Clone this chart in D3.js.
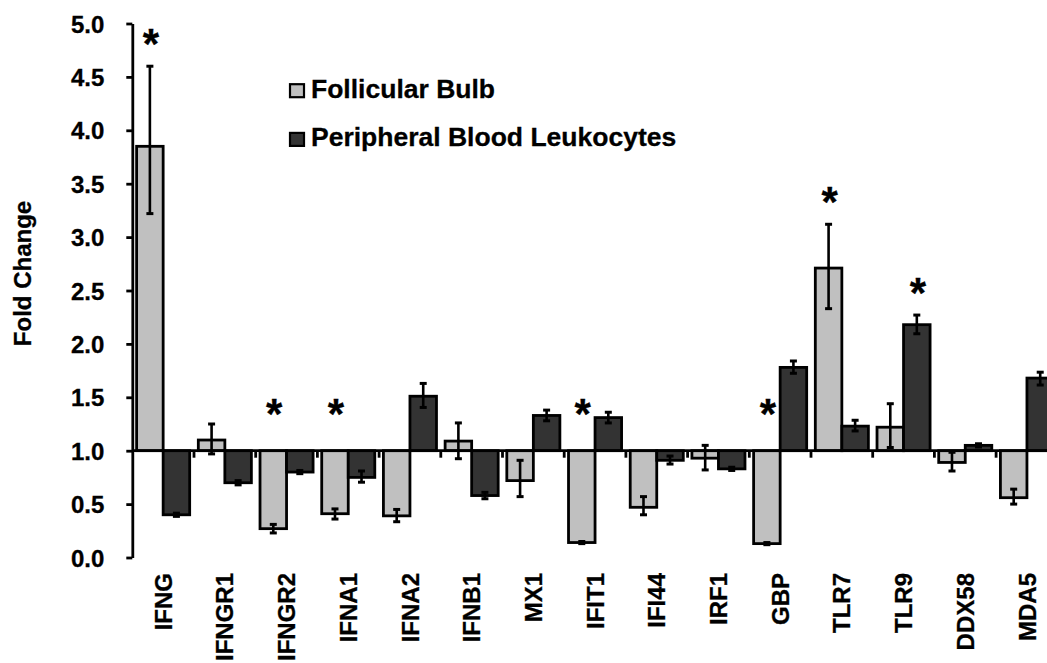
<!DOCTYPE html>
<html>
<head>
<meta charset="utf-8">
<script src="https://cdn.jsdelivr.net/npm/d3@7"></script>
<style>
  html, body { margin: 0; padding: 0; background: #fff; }
  svg { display: block; font-family: "Liberation Sans", Arial, sans-serif; font-weight: bold; }
  svg text { stroke: #000; stroke-width: 0.3px; }
</style>
</head>
<body>
<div id="chart"></div>
<script>
// genes on the x axis
const categories = ["IFNG", "IFNGR1", "IFNGR2", "IFNA1", "IFNA2", "IFNB1", "MX1", "IFIT1",
  "IFI44", "IRF1", "GBP", "TLR7", "TLR9", "DDX58", "MDA5"];

const seriesNames = ["Follicular Bulb", "Peripheral Blood Leukocytes"];

// fold change, follicular bulb
const follicular = [3.85, 1.10, 0.27, 0.41, 0.39, 1.09, 0.72, 0.14, 0.47, 0.93, 0.13, 2.71, 1.22, 0.89, 0.56];
const follicularErrUp = [0.75, 0.15, 0.04, 0.045, 0.06, 0.17, 0.19, 0.01, 0.10, 0.12, 0.01, 0.41, 0.22, 0.095, 0.08];
const follicularErrDown = [0.63, 0.13, 0.04, 0.05, 0.055, 0.165, 0.15, 0.01, 0.07, 0.11, 0.01, 0.38, 0.19, 0.08, 0.06];

// fold change, peripheral blood leukocytes
const leukocytes = [0.40, 0.70, 0.80, 0.75, 1.51, 0.58, 1.33, 1.31, 0.91, 0.83, 1.78, 1.23, 2.18, 1.05, 1.68];
const leukocytesErrUp = [0.015, 0.02, 0.015, 0.06, 0.12, 0.03, 0.05, 0.05, 0.04, 0.015, 0.06, 0.055, 0.09, 0.015, 0.055];
const leukocytesErrDown = [0.015, 0.02, 0.015, 0.045, 0.105, 0.03, 0.05, 0.05, 0.035, 0.015, 0.055, 0.045, 0.085, 0.015, 0.065];

// significance markers (*)
const follicularSig = [true, false, true, true, false, false, false, true, false, false, true, true, false, false, false];
const leukocytesSig = [false, false, false, false, false, false, false, false, false, false, false, false, true, false, false];

const yTicks = [0, 0.5, 1, 1.5, 2, 2.5, 3, 3.5, 4, 4.5, 5];
const baseline = 1.0;

const colors = ["#c0c0c0", "#333333"];

const width = 1047, height = 663;
const axisX = 132.3;
const step = 61.7;

const svg = d3.select("#chart").append("svg")
  .attr("width", width)
  .attr("height", height);

const y = d3.scaleLinear().domain([0, 5]).range([557.5, 23.5]);

const x0 = d3.scaleBand()
  .domain(categories)
  .range([axisX, axisX + step * categories.length])
  .paddingInner(0.14)
  .paddingOuter(0.07);

const x1 = d3.scaleBand().domain([0, 1]).range([0, x0.bandwidth()]);

// one row per bar
const rows = [];
categories.forEach((c, i) => {
  rows.push({ cat: c, s: 0, v: follicular[i], up: follicularErrUp[i], dn: follicularErrDown[i], sig: follicularSig[i] });
  rows.push({ cat: c, s: 1, v: leukocytes[i], up: leukocytesErrUp[i], dn: leukocytesErrDown[i], sig: leukocytesSig[i] });
});
const bx = (d) => x0(d.cat) + x1(d.s);
const bw = x1.bandwidth();

// y axis
svg.append("g")
  .attr("transform", `translate(${axisX},0)`)
  .call(d3.axisLeft(y).tickValues(yTicks).tickSize(6).tickSizeOuter(0).tickFormat(d3.format(".1f")))
  .call((g) => g.select(".domain").attr("stroke", "#000").attr("stroke-width", 2.8))
  .call((g) => g.selectAll(".tick line").attr("stroke", "#000").attr("stroke-width", 2.8))
  .call((g) => g.selectAll(".tick text")
    .attr("x", -28)
    .attr("dy", "0.36em")
    .attr("font-family", null)
    .attr("font-size", 24)
    .attr("fill", "#000"));

// bars
svg.append("g")
  .selectAll("rect")
  .data(rows)
  .join("rect")
  .attr("x", bx)
  .attr("width", bw)
  .attr("y", (d) => Math.min(y(d.v), y(baseline)))
  .attr("height", (d) => Math.abs(y(d.v) - y(baseline)))
  .attr("fill", (d) => colors[d.s])
  .attr("stroke", "#000")
  .attr("stroke-width", 2.8);

// error bars
const eb = svg.append("g")
  .selectAll("g")
  .data(rows)
  .join("g")
  .attr("stroke", "#000")
  .attr("stroke-width", 2.6);
eb.append("line")
  .attr("x1", (d) => bx(d) + bw / 2)
  .attr("x2", (d) => bx(d) + bw / 2)
  .attr("y1", (d) => y(d.v + d.up))
  .attr("y2", (d) => y(d.v - d.dn));
eb.append("line")
  .attr("x1", (d) => bx(d) + bw / 2 - 3.5)
  .attr("x2", (d) => bx(d) + bw / 2 + 3.5)
  .attr("y1", (d) => y(d.v + d.up))
  .attr("y2", (d) => y(d.v + d.up))
  .attr("stroke-width", 3);
eb.append("line")
  .attr("x1", (d) => bx(d) + bw / 2 - 3.5)
  .attr("x2", (d) => bx(d) + bw / 2 + 3.5)
  .attr("y1", (d) => y(d.v - d.dn))
  .attr("y2", (d) => y(d.v - d.dn))
  .attr("stroke-width", 3);

// category axis drawn at fold change 1.0
svg.append("line")
  .attr("x1", axisX)
  .attr("x2", width)
  .attr("y1", y(baseline))
  .attr("y2", y(baseline))
  .attr("stroke", "#000")
  .attr("stroke-width", 2.8);

svg.append("g")
  .selectAll("line")
  .data(categories.slice(1))
  .join("line")
  .attr("x1", (d) => x0(d) - x0.step() * x0.paddingOuter())
  .attr("x2", (d) => x0(d) - x0.step() * x0.paddingOuter())
  .attr("y1", y(baseline))
  .attr("y2", y(baseline) + 7)
  .attr("stroke", "#000")
  .attr("stroke-width", 2.8);

// category labels
svg.append("g")
  .selectAll("text")
  .data(categories)
  .join("text")
  .attr("transform", (d) => `translate(${x0(d) + x0.bandwidth() / 2},573) rotate(-90)`)
  .attr("text-anchor", "end")
  .attr("dy", "0.36em")
  .attr("font-size", 24)
  .attr("fill", "#000")
  .text((d) => d);

// significance stars
svg.append("g")
  .selectAll("text")
  .data(rows.filter((d) => d.sig))
  .join("text")
  .attr("x", (d) => bx(d) + bw / 2 + 1)
  .attr("y", (d) => Math.min(y(d.v + d.up) - 32, y(baseline) - 47) + 24)
  .attr("text-anchor", "middle")
  .attr("font-size", 42)
  .attr("fill", "#000")
  .text("*");

// y axis title
svg.append("text")
  .attr("transform", "translate(31,273.5) rotate(-90)")
  .attr("text-anchor", "middle")
  .attr("font-size", 24)
  .attr("fill", "#000")
  .text("Fold Change");

// legend
const legend = svg.append("g")
  .selectAll("g")
  .data(seriesNames)
  .join("g")
  .attr("transform", (d, i) => `translate(290,${97.7 + i * 48.7})`);
legend.append("rect")
  .attr("x", 0)
  .attr("y", -13.5)
  .attr("width", 14)
  .attr("height", 13)
  .attr("fill", (d, i) => colors[i])
  .attr("stroke", "#000")
  .attr("stroke-width", 2.2);
legend.append("text")
  .attr("x", 21)
  .attr("font-size", 26.5)
  .attr("fill", "#000")
  .text((d) => d);
</script>
</body>
</html>
